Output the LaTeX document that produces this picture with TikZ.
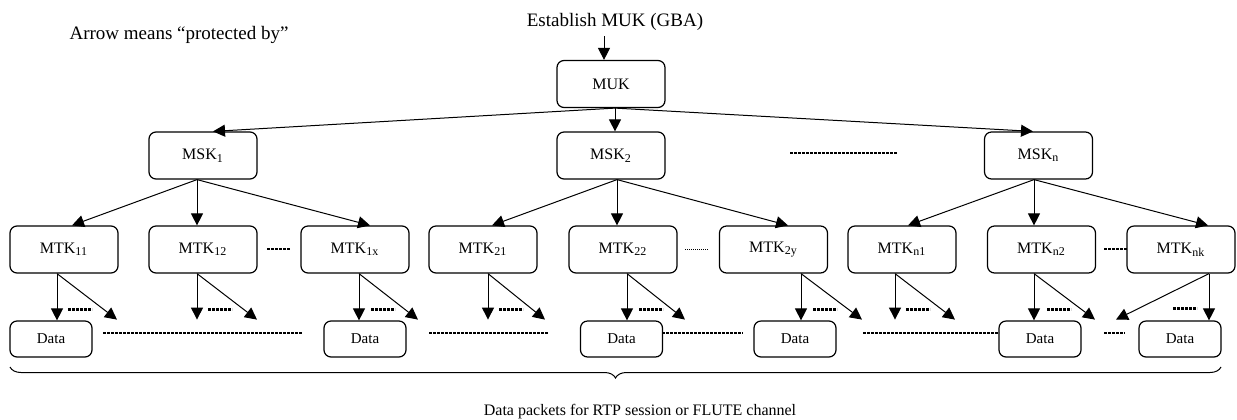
\documentclass[tikz,border=0pt]{standalone}
\usepackage{fontspec}
\setmainfont{Liberation Serif}
\usetikzlibrary{arrows.meta,decorations.pathreplacing}

\begin{document}
\begin{tikzpicture}[x=0.5pt,y=-0.5pt,
   key/.style={draw,line width=0.6pt,rounded corners=3.5pt,inner sep=0pt,
     minimum width=54pt,minimum height=23.5pt,font=\fontsize{8}{9}\selectfont},
   packet/.style={draw,line width=0.6pt,rounded corners=3.5pt,inner sep=0pt,
     minimum width=41pt,minimum height=18pt,font=\fontsize{7.5}{9}\selectfont},
   prot/.style={-{Triangle[length=6pt,width=6pt]},line width=0.5pt},
   etc/.style={line width=1.3pt,dash pattern=on 1.3pt off 0.7pt},
   fineetc/.style={line width=0.5pt,dash pattern=on 0.5pt off 0.5pt}]
   \useasboundingbox (0,0) rectangle (1237,419);

   \node[anchor=base,font=\fontsize{9.5}{11}\selectfont] (legend) at (179,39) {Arrow means “protected by”};
   \node[anchor=base,font=\fontsize{9.5}{11}\selectfont] (gba) at (615,26) {Establish MUK (GBA)};
   \node[anchor=base,font=\fontsize{8}{10}\selectfont] (caption) at (640,415) {Data packets for RTP session or FLUTE channel};

   \node[key] (muk) at (611,84) {MUK};
   \node[key] (msk1) at (203,155.5) {MSK\textsubscript{1}};
   \node[key] (msk2) at (611,155.5) {MSK\textsubscript{2}};
   \node[key] (mskn) at (1038.5,155.5) {MSK\textsubscript{n}};

   \node[key] (mtk11) at (64,249.5) {MTK\textsubscript{11}};
   \node[key] (mtk12) at (203,249.5) {MTK\textsubscript{12}};
   \node[key] (mtk1x) at (355,249.5) {MTK\textsubscript{1x}};
   \node[key] (mtk21) at (483,249.5) {MTK\textsubscript{21}};
   \node[key] (mtk22) at (623,249.5) {MTK\textsubscript{22}};
   \node[key] (mtk2y) at (773.5,249.5) {MTK\textsubscript{2y}};
   \node[key] (mtkn1) at (902,249.5) {MTK\textsubscript{n1}};
   \node[key] (mtkn2) at (1041.5,249.5) {MTK\textsubscript{n2}};
   \node[key] (mtknk) at (1181,249.5) {MTK\textsubscript{nk}};

   \node[packet] (d1) at (51,339) {Data};
   \node[packet] (d2) at (365,339) {Data};
   \node[packet] (d3) at (621.5,339) {Data};
   \node[packet] (d4) at (795,339) {Data};
   \node[packet] (d5) at (1040,339) {Data};
   \node[packet] (d6) at (1180,339) {Data};

   \coordinate (in) at (604,36);
   \draw[prot] (in) -- (in |- muk.north);
   \coordinate (m0) at ([xshift=2pt]muk.south);
   \draw[prot] (m0) -- ([xshift=5pt]msk1.north);
   \draw[prot] (m0) -- (m0 |- msk2.north);
   \draw[prot] (m0) -- ([xshift=-2.75pt]mskn.north);

   \coordinate (s1) at ([xshift=-3pt]msk1.south);
   \draw[prot] (s1) -- ([xshift=4pt]mtk11.north);
   \draw[prot] (s1) -- (s1 |- mtk12.north);
   \draw[prot] (s1) -- ([xshift=7.5pt]mtk1x.north);
   \coordinate (s2) at ([xshift=3pt]msk2.south);
   \draw[prot] (s2) -- ([xshift=4.5pt]mtk21.north);
   \draw[prot] (s2) -- (s2 |- mtk22.north);
   \draw[prot] (s2) -- ([xshift=7.25pt]mtk2y.north);
   \coordinate (sn) at ([xshift=-2.25pt]mskn.south);
   \draw[prot] (sn) -- ([xshift=3pt]mtkn1.north);
   \draw[prot] (sn) -- (sn |- mtkn2.north);
   \draw[prot] (sn) -- ([xshift=13.5pt]mtknk.north);

   \coordinate (a11) at ([xshift=-3.5pt]mtk11.south);
   \draw[prot] (a11) -- (a11 |- d1.north);
   \draw[prot] (a11) -- ++(60,46);
   \draw[etc] ([shift={(11,36)}]a11) -- ++(24,0);
   \coordinate (a12) at ([xshift=-3pt]mtk12.south);
   \draw[prot] (a12) -- ++(0,46);
   \draw[prot] (a12) -- ++(60,46);
   \draw[etc] ([shift={(11,36)}]a12) -- ++(24,0);
   \coordinate (a1x) at ([xshift=2pt]mtk1x.south);
   \draw[prot] (a1x) -- (a1x |- d2.north);
   \draw[prot] (a1x) -- ++(59,46);
   \draw[etc] ([shift={(12,36)}]a1x) -- ++(24,0);
   \coordinate (a21) at ([xshift=2.5pt]mtk21.south);
   \draw[prot] (a21) -- ++(0,46);
   \draw[prot] (a21) -- ++(57,46);
   \draw[etc] ([shift={(11,36)}]a21) -- ++(24,0);
   \coordinate (a22) at ([xshift=2pt]mtk22.south);
   \draw[prot] (a22) -- (a22 |- d3.north);
   \draw[prot] (a22) -- ++(58,46);
   \draw[etc] ([shift={(12,36)}]a22) -- ++(24,0);
   \coordinate (a2y) at ([xshift=13.75pt]mtk2y.south);
   \draw[prot] (a2y) -- (a2y |- d4.north);
   \draw[prot] (a2y) -- ++(61,46);
   \draw[etc] ([shift={(12,36)}]a2y) -- ++(24,0);
   \coordinate (an1) at ([xshift=-3.5pt]mtkn1.south);
   \draw[prot] (an1) -- ++(0,46);
   \draw[prot] (an1) -- ++(60,46);
   \draw[etc] ([shift={(11,36)}]an1) -- ++(24,0);
   \coordinate (an2) at ([xshift=-3.75pt]mtkn2.south);
   \draw[prot] (an2) -- (an2 |- d5.north);
   \draw[prot] (an2) -- ++(61,46);
   \draw[etc] ([shift={(13,36)}]an2) -- ++(24,0);
   \coordinate (ank) at ([xshift=14pt]mtknk.south);
   \draw[prot] (ank) -- (ank |- d6.north);
   \draw[prot] (ank) -- ++(-93,46);
   \draw[etc] ([shift={(-36,35)}]ank) -- ++(24,0);

   \draw[etc] (790,153) -- (897,153);
   \draw[etc] (267,249) -- (290,249);
   \draw[fineetc] (685,249) -- (708,249);
   \draw[etc] (1104,249) -- (1127,249);
   \draw[etc] (103,333) -- (302,333);
   \draw[etc] (429,333) -- (548,333);
   \draw[etc] (662,333) -- (743,333);
   \draw[etc] (863,333) -- (999,333);
   \draw[etc] (1104,333) -- (1125,333);

   \draw[line width=0.5pt,decorate,decoration={brace,mirror,amplitude=5.5pt}] (10,367) -- (1221,367);
\end{tikzpicture}
\end{document}
